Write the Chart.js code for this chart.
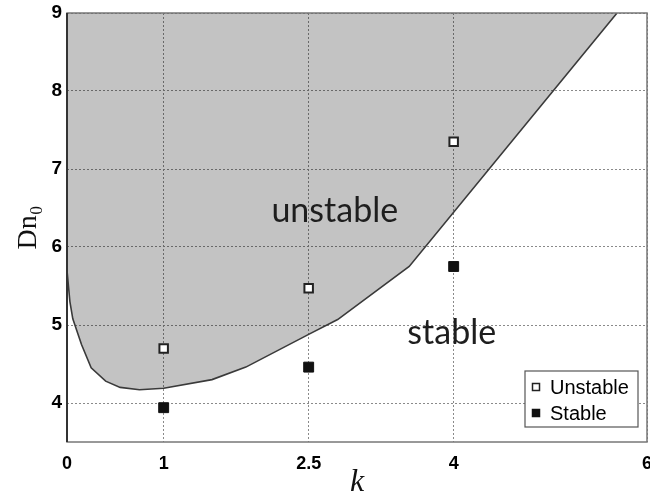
<!DOCTYPE html>
<html>
<head>
<meta charset="utf-8">
<script src="https://cdn.jsdelivr.net/npm/chart.js@4.4.1/dist/chart.umd.min.js"></script>
<style>
  html, body { margin: 0; padding: 0; background: #fff; }
  #wrap { width: 650px; height: 502px; }
</style>
</head>
<body>
<div id="wrap"><canvas id="chart"></canvas></div>
<script>
// stability boundary (curve)
const boundaryK  = [0, 0.03, 0.06, 0.15, 0.25, 0.4, 0.55, 0.75, 1.0, 1.5, 1.85, 2.5, 2.8, 3.54, 5.69];
const boundaryDn = [5.7, 5.3, 5.08, 4.75, 4.45, 4.28, 4.2, 4.17, 4.19, 4.3, 4.46, 4.88, 5.07, 5.75, 9];

// measured points
const unstableK  = [1, 2.5, 4];
const unstableDn = [4.7, 5.47, 7.35];
const stableK    = [1, 2.5, 4];
const stableDn   = [3.94, 4.46, 5.75];

const xTicks = [0, 1, 2.5, 4, 6];
const yTicks = [4, 5, 6, 7, 8, 9];

const regionLabels = [
  { text: "unstable", k: 2.77, dn: 6.32 },
  { text: "stable",   k: 3.98, dn: 4.76 }
];

const toPts = (xs, ys) => xs.map((x, i) => ({ x: x, y: ys[i] }));

// box, region names and legend
const extras = {
  id: "extras",
  afterDatasetsDraw(chart) {
    const ctx = chart.ctx, a = chart.chartArea;
    const xs = chart.scales.x, ys = chart.scales.y;
    ctx.save();
    ctx.strokeStyle = "#777";
    ctx.lineWidth = 1.5;
    ctx.strokeRect(a.left, a.top, a.right - a.left, a.bottom - a.top);
    ctx.strokeStyle = "#333";
    ctx.lineWidth = 2;
    ctx.beginPath();
    ctx.moveTo(a.left, a.top);
    ctx.lineTo(a.left, a.bottom);
    ctx.stroke();

    ctx.fillStyle = "#1e1e1e";
    ctx.font = "34px Lato, 'Open Sans', sans-serif";
    ctx.textAlign = "center";
    ctx.textBaseline = "alphabetic";
    regionLabels.forEach(r => {
      ctx.fillText(r.text, xs.getPixelForValue(r.k), ys.getPixelForValue(r.dn));
    });

    // legend box
    const bx = a.right - 122, by = a.bottom - 71, bw = 113, bh = 56;
    ctx.fillStyle = "#fff";
    ctx.fillRect(bx, by, bw, bh);
    ctx.strokeStyle = "#555";
    ctx.lineWidth = 1.2;
    ctx.strokeRect(bx, by, bw, bh);
    ctx.font = "20px 'Liberation Sans', Arial, sans-serif";
    ctx.textAlign = "left";
    ctx.textBaseline = "middle";
    const items = chart.data.datasets.slice(1);
    items.forEach((d, i) => {
      const cy = by + 16 + i * 26;
      const cx = bx + 11;
      ctx.fillStyle = d.backgroundColor;
      ctx.fillRect(cx - 3.5, cy - 3.5, 7, 7);
      ctx.strokeStyle = d.borderColor;
      ctx.lineWidth = 1.5;
      ctx.strokeRect(cx - 3.5, cy - 3.5, 7, 7);
      ctx.fillStyle = "#000";
      ctx.fillText(d.label, bx + 25, cy + 1);
    });
    ctx.restore();
  }
};

new Chart(document.getElementById("chart"), {
  type: "scatter",
  data: {
    datasets: [
      {
        label: "boundary",
        data: toPts(boundaryK, boundaryDn),
        showLine: true,
        fill: "end",
        backgroundColor: "rgba(0,0,0,0.235)",
        borderColor: "#3a3a3a",
        borderWidth: 1.6,
        pointRadius: 0,
        tension: 0,
        order: 3
      },
      {
        label: "Unstable",
        data: toPts(unstableK, unstableDn),
        pointStyle: "rect",
        pointRadius: 6,
        backgroundColor: "#fff",
        borderColor: "#222",
        borderWidth: 2,
        order: 1
      },
      {
        label: "Stable",
        data: toPts(stableK, stableDn),
        pointStyle: "rect",
        pointRadius: 7,
        backgroundColor: "#111",
        borderColor: "#111",
        borderWidth: 1,
        order: 1
      }
    ]
  },
  options: {
    responsive: true,
    maintainAspectRatio: false,
    animation: false,
    layout: { autoPadding: false, padding: { top: 13, right: 3, left: 0, bottom: 0 } },
    plugins: { legend: { display: false }, tooltip: { enabled: false } },
    scales: {
      x: {
        type: "linear",
        min: 0, max: 6,
        afterBuildTicks: s => { s.ticks = xTicks.map(v => ({ value: v })); },
        afterFit: s => { s.height = 60; s.paddingLeft = 0; s.paddingRight = 0; },
        grid: { color: "#8a8a8a", lineWidth: 1, drawTicks: false },
        border: { display: false, dash: [2, 2] },
        ticks: {
          padding: 11,
          color: "#000",
          font: { family: "'Liberation Sans', Arial, sans-serif", size: 18, weight: "bold" },
          callback: v => String(v)
        },
        title: {
          display: true,
          text: "k",
          color: "#111",
          font: { family: "'Liberation Serif', 'DejaVu Serif', serif", size: 32, style: "italic" },
          padding: { top: 0, bottom: 0 }
        }
      },
      y: {
        type: "linear",
        min: 3.5, max: 9,
        afterBuildTicks: s => { s.ticks = yTicks.map(v => ({ value: v })); },
        afterFit: s => { s.width = 67; s.paddingTop = 0; s.paddingBottom = 0; },
        grid: { color: "#8a8a8a", lineWidth: 1, drawTicks: false },
        border: { display: false, dash: [2, 2] },
        ticks: {
          padding: 5,
          color: "#000",
          font: { family: "'Liberation Sans', Arial, sans-serif", size: 19, weight: "bold" }
        },
        title: {
          display: true,
          text: "Dn₀",
          color: "#111",
          font: { family: "'Liberation Serif', 'DejaVu Serif', serif", size: 28 },
          padding: { top: 12, bottom: 0 }
        }
      }
    }
  },
  plugins: [extras]
});
</script>
</body>
</html>
